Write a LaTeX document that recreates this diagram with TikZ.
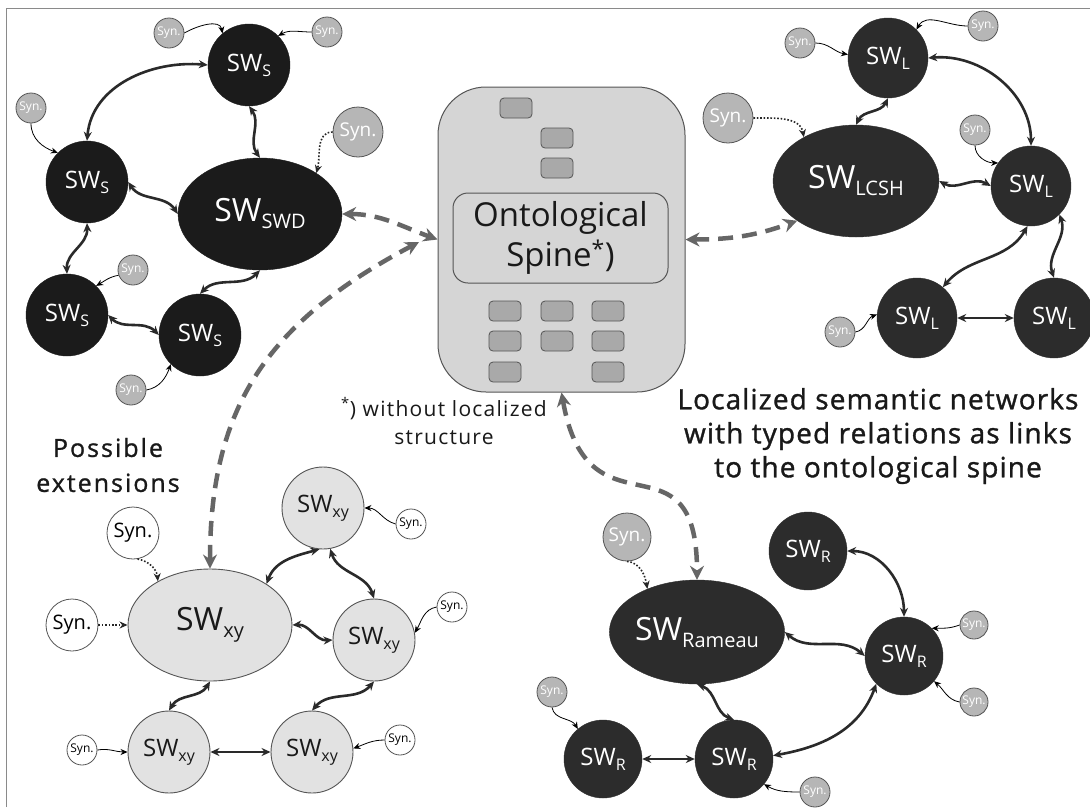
\documentclass[tikz,border=0pt]{standalone}
\usepackage{fontspec}
\setmainfont{Open Sans}
\usetikzlibrary{arrows.meta,shapes.geometric}
\definecolor{dkA}{HTML}{1B1B1B}
\definecolor{dkB}{HTML}{2C2C2C}
\definecolor{lk}{HTML}{2A2A2A}
\definecolor{synf}{HTML}{B6B6B6}
\definecolor{edge}{HTML}{555555}
\definecolor{lgr}{HTML}{E2E2E2}
\definecolor{spf}{HTML}{D5D5D5}
\definecolor{sqf}{HTML}{A9A9A9}
\definecolor{dsh}{HTML}{666666}
\definecolor{frm}{HTML}{8A8A8A}
\newcommand{\SWc}[1]{{\fontsize{24}{24}\selectfont SW}\raisebox{-5pt}{\fontsize{16}{16}\selectfont #1}}
\newcommand{\SWe}[1]{{\fontsize{32}{32}\selectfont SW}\raisebox{-7pt}{\fontsize{20}{20}\selectfont #1}}
\tikzset{
  swA/.style={circle, minimum size=82pt, inner sep=0pt, fill=dkA, draw=dkA, text=white},
  swB/.style={circle, minimum size=80pt, inner sep=0pt, fill=dkB, draw=dkB, text=white},
  swEA/.style={ellipse, minimum width=164pt, minimum height=112pt, inner sep=0pt, fill=dkA, draw=dkA, text=white},
  swEB/.style={ellipse, minimum width=166pt, minimum height=112pt, inner sep=0pt, fill=dkB, draw=dkB, text=white},
  xyC/.style={circle, minimum size=82pt, inner sep=0pt, fill=lgr, draw=edge, line width=0.9pt, text=black!90},
  xyE/.style={ellipse, minimum width=164pt, minimum height=112pt, inner sep=0pt, fill=lgr, draw=edge, line width=0.9pt, text=black!90},
  synS/.style={circle, minimum size=30pt, inner sep=0pt, fill=synf, draw=edge, line width=0.8pt, text=white, font=\fontsize{12}{12}\selectfont},
  synB/.style={circle, minimum size=50pt, inner sep=0pt, fill=synf, draw=edge, line width=0.8pt, text=white, font=\fontsize{19}{19}\selectfont},
  synWS/.style={circle, minimum size=30pt, inner sep=0pt, fill=white, draw=edge, line width=0.8pt, text=black, font=\fontsize{12}{12}\selectfont},
  synWB/.style={circle, minimum size=52pt, inner sep=0pt, fill=white, draw=edge, line width=0.8pt, text=black, font=\fontsize{20}{20}\selectfont},
  link/.style={draw=lk, line width=2.6pt, arrows={Stealth[length=9pt,width=8pt]-Stealth[length=9pt,width=8pt]}},
  wigA/.style={relative, out=24, in=204},
  wigB/.style={relative, out=-24, in=156},
  synarr/.style={draw=black, line width=0.8pt, arrows={-Stealth[length=7pt,width=6pt]}},
  dotarr/.style={draw=black!85, line width=1.6pt, dash pattern=on 1.6pt off 1.8pt, arrows={-Stealth[length=8pt,width=7pt]}},
  dsharr/.style={draw=dsh, line width=4.5pt, dash pattern=on 15pt off 9pt, arrows={Stealth[length=14pt,width=14pt]-Stealth[length=14pt,width=14pt]}},
  sq/.style={rectangle, rounded corners=4pt, minimum width=32pt, minimum height=20pt, inner sep=0pt, fill=sqf, draw=edge, line width=0.8pt},
  lab/.style={align=center, text=black!90}
}
\begin{document}
\begin{tikzpicture}[x=1pt, y=-1pt]
\useasboundingbox (0,0) rectangle (1090,807);
\fill[white] (0,0) rectangle (1090,807);
\draw[frm, line width=1pt] (6,807) -- (6,8) -- (1090,8);

% ---------- ontological spine ----------
\node[rectangle, rounded corners=48pt, minimum width=247pt, minimum height=305pt, fill=spf, draw=edge, line width=1pt] (spine) at (561.5,239.5) {};
\node[sq] (q1) at (516,108) {};
\node[sq] (q2) at (557,138) {};
\node[sq] (q3) at (557,168) {};
\node[sq] (q4) at (505,311) {};
\node[sq] (q5) at (557,311) {};
\node[sq] (q6) at (608,311) {};
\node[sq] (q7) at (505,341) {};
\node[sq] (q8) at (557,341) {};
\node[sq] (q9) at (608,341) {};
\node[sq] (q10) at (505,372) {};
\node[sq] (q11) at (608,372) {};
\node[rectangle, rounded corners=15pt, minimum width=215pt, minimum height=90pt, fill=spf, draw=edge, line width=1pt, align=center, font=\fontsize{33}{40}\selectfont, text=black!90] (spin) at (560.5,238) {Ontological\\Spine\textsuperscript{*})};
\coordinate (spL2) at (419,242);

% ---------- top-left cluster ----------
\node[swA] (s1) at (249,65) {\SWc{S}};
\node[swA] (s2) at (87,182) {\SWc{S}};
\node[swEA] (swd) at (260,214) {\SWe{SWD}};
\node[swA] (s3) at (67,315) {\SWc{S}};
\node[swA] (s4) at (200,335) {\SWc{S}};
\node[synS] (sa1) at (169,33) {Syn.};
\node[synS] (sa2) at (327,32) {Syn.};
\node[synS] (sa3) at (31,108) {Syn.};
\node[synS] (sa4) at (133,270) {Syn.};
\node[synS] (sa5) at (131,390) {Syn.};
\node[synB] (sa6) at (358,132) {Syn.};

\draw[link] (s1.west) to[out=175, in=85] (s2.north);
\draw[link] (s1.south) to[wigA] (swd.north);
\draw[link] (s2.east) to[wigB] (swd.west);
\draw[link] (s2.south) to[wigA] (s3.north);
\draw[link] (s3.east) to[wigB] (s4.west);
\draw[link] (s4.north) to[wigA] (swd.south);
\draw[synarr] (sa1.east) to[out=30, in=100] (s1.130);
\draw[synarr] (sa2.west) to[out=180, in=30] (s1.45);
\draw[synarr] (sa3.south) to[out=-90, in=160] (s2.135);
\draw[synarr] (sa4.200) to[out=190, in=30] (s3.45);
\draw[synarr] (sa5.east) to[out=10, in=-110] (s4.225);
\draw[dotarr] (sa6.west) to[out=180, in=75] (swd.36);

% ---------- top-right cluster ----------
\node[swB] (l1) at (888,58) {\SWc{L}};
\node[swEB] (lcsh) at (856,181) {\SWe{LCSH}};
\node[swB] (l2) at (1031,186) {\SWc{L}};
\node[swB] (l3) at (917,318) {\SWc{L}};
\node[swB] (l4) at (1054,318) {\SWc{L}};
\node[synS] (sb1) at (800,43) {Syn.};
\node[synS] (sb2) at (983,26) {Syn.};
\node[synB] (sb3) at (728,118) {Syn.};
\node[synS] (sb4) at (975,130) {Syn.};
\node[synS] (sb5) at (840,332) {Syn.};

\draw[link] (l1.south) to[wigA] (lcsh.north);
\draw[link] (l1.east) to[out=5, in=90] (l2.north);
\draw[link] (lcsh.east) to[wigB] (l2.west);
\draw[link] (l2.265) to[out=240, in=50] (l3.50);
\draw[link] (l2.-45) to[wigA] (l4.north);
\draw[link] (l3.east) -- (l4.west);
\draw[synarr] (sb1.east) to[out=0, in=170] (l1.175);
\draw[synarr] (sb2.west) to[out=180, in=60] (l1.45);
\draw[synarr] (sb4.south) to[out=-90, in=180] (l2.145);
\draw[synarr] (sb5.east) to[out=10, in=200] (l3.175);
\draw[dotarr] (sb3.east) to[out=0, in=100] (lcsh.140);

% ---------- bottom-left cluster ----------
\node[xyE] (x0) at (210,625) {\SWe{xy}};
\node[xyC] (x1) at (323,508) {\SWc{xy}};
\node[xyC] (x2) at (374,640) {\SWc{xy}};
\node[xyC] (x3) at (169,752) {\SWc{xy}};
\node[xyC] (x4) at (312,752) {\SWc{xy}};
\node[synWS] (sc1) at (411,524) {Syn.};
\node[synWS] (sc2) at (452,607) {Syn.};
\node[synWS] (sc3) at (82,750) {Syn.};
\node[synWS] (sc4) at (400,740) {Syn.};
\node[synWB] (sc5) at (133,533) {Syn.};
\node[synWB] (sc6) at (72,625) {Syn.};

\draw[link] (x0.36) to[out=70, in=195] (x1.-95);
\draw[link] (x1.-80) to[wigB] (x2.north);
\draw[link] (x0.east) to[wigA] (x2.west);
\draw[link] (x0.south) to[wigA] (x3.north);
\draw[link] (x2.south) to[wigA] (x4.north);
\draw[link] (x3.east) -- (x4.west);
\draw[synarr] (sc1.west) to[out=165, in=0] (x1.0);
\draw[synarr] (sc2.west) to[out=190, in=60] (x2.10);
\draw[synarr] (sc3.east) to[out=10, in=180] (x3.west);
\draw[synarr] (sc4.west) to[out=180, in=20] (x4.5);
\draw[dotarr] (sc5.-80) to[out=-10, in=95] (x0.140);
\draw[dotarr] (sc6.east) -- (x0.west);

% ---------- bottom-right cluster ----------
\node[swEB, minimum width=152pt, minimum height=104pt] (ram) at (697,632) {\SWe{Rameau}};
\node[swB, minimum size=78pt] (r1) at (808,551) {\SWc{R}};
\node[swB, minimum size=78pt] (r2) at (904,656) {\SWc{R}};
\node[swB, minimum size=78pt] (r3) at (603,759) {\SWc{R}};
\node[swB, minimum size=78pt] (r4) at (734,759) {\SWc{R}};
\node[synB, minimum size=48pt] (sd1) at (627,537) {Syn.};
\node[synS, minimum size=28pt] (sd2) at (974,625) {Syn.};
\node[synS, minimum size=28pt] (sd3) at (974,702) {Syn.};
\node[synS] (sd4) at (552,692) {Syn.};
\node[synS] (sd5) at (815,792) {Syn.};

\draw[link] (r1.0) to[out=0, in=90] (r2.north);
\draw[link] (ram.east) to[wigB] (r2.west);
\draw[link] (ram.south) to[wigA] (r4.north);
\draw[link] (r2.225) to[out=250, in=10] (r4.5);
\draw[link] (r3.east) -- (r4.west);
\draw[synarr] (sd2.west) to[out=200, in=0] (r2.45);
\draw[synarr] (sd3.west) to[out=170, in=-40] (r2.-40);
\draw[synarr] (sd4.south) to[out=-80, in=120] (r3.130);
\draw[synarr] (sd5.west) to[out=180, in=-30] (r4.-40);
\draw[dotarr] (sd1.south) to[out=-5, in=100] (ram.139);

% ---------- dashed links to the spine ----------
\draw[dsharr] (swd.east) to[out=0, in=160] (spine.west);
\draw[dsharr] (x0.north) to[out=90, in=208, looseness=1.1] (spL2);
\draw[dsharr] (spine.east) to[out=0, in=200] (lcsh.south west);
\draw[dsharr] (spine.south) to[out=-80, in=90, looseness=1.7] (ram.north);

% ---------- texts ----------
\node[lab, font=\fontsize{28}{34}\selectfont\addfontfeature{LetterSpace=4,FakeBold=1.2}] (t1) at (878,436) {Localized semantic networks\\with typed relations as links\\to the ontological spine};
\node[lab, font=\fontsize{25}{35}\selectfont\addfontfeature{LetterSpace=8,FakeBold=1}] (t2) at (108,465) {Possible\\extensions};
\node[lab, font=\fontsize{21}{28}\selectfont\addfontfeature{LetterSpace=6}] (t3) at (444,421) {\textsuperscript{*}) without localized\\structure};
\end{tikzpicture}
\end{document}
